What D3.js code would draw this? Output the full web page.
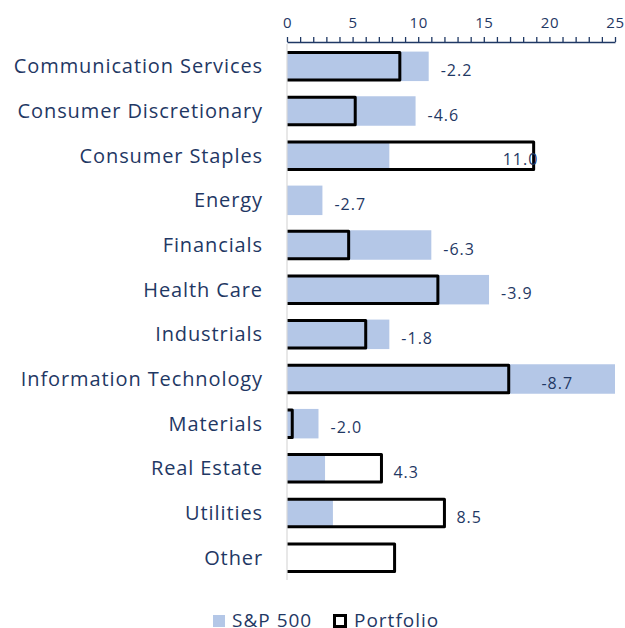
<!DOCTYPE html>
<html lang="en">
<head>
    <meta charset="UTF-8">
    <title>Sector weights: Portfolio vs S&amp;P 500</title>
    <script src="https://d3js.org/d3.v7.min.js"></script>
    <style>
        body { margin: 0; background: #fff; }
        text { font-family: "Open Sans", sans-serif; fill: #1f3864; }
    </style>
</head>
<body>

<script>
const sectors = ["Communication Services", "Consumer Discretionary", "Consumer Staples", "Energy",
    "Financials", "Health Care", "Industrials", "Information Technology", "Materials",
    "Real Estate", "Utilities", "Other"];
const sp500 = [10.8, 9.8, 7.8, 2.7, 11.0, 15.4, 7.8, 25.6, 2.4, 2.9, 3.5, 0];
const portfolio = [8.6, 5.2, 18.8, 0, 4.7, 11.5, 6.0, 16.9, 0.4, 7.2, 12.0, 8.2];
const diffLabels = ["-2.2", "-4.6", "11.0", "-2.7", "-6.3", "-3.9", "-1.8", "-8.7", "-2.0", "4.3", "8.5", ""];
// a few labels sit inside the bars (centre, in axis units)
const labelAt = [null, null, 17.8, null, null, null, null, 20.6, null, null, null, null];
const xTicks = d3.range(0, 26, 1);

const width = 625, height = 628;
const navy = "#1f3864", blue = "#b4c7e7";

const rows = sectors.map((name, i) => ({
    name, sp: sp500[i], pf: portfolio[i], label: diffLabels[i], at: labelAt[i]
}));

const svg = d3.select("body").append("svg")
    .attr("width", width)
    .attr("height", height);

const x = d3.scaleLinear().domain([0, 25]).range([287, 615]).clamp(true);
const y = d3.scaleBand().domain(sectors).range([44, 580]).paddingInner(0.34).paddingOuter(0.17);

// axis on top
const axis = svg.append("g")
    .attr("transform", "translate(0,42)")
    .call(d3.axisTop(x).tickValues(xTicks).tickSize(5).tickSizeOuter(0).tickPadding(9)
        .tickFormat(d => d % 5 === 0 ? d : ""));
axis.select(".domain").attr("stroke", navy).attr("stroke-width", 1.3);
axis.selectAll(".tick line").attr("stroke", navy).attr("stroke-width", 1.3);
axis.selectAll(".tick text").attr("font-size", 15).attr("fill", navy)
    .attr("letter-spacing", "0.6px")
    .attr("font-family", "Open Sans, sans-serif");

// S&P 500 bars
svg.append("g")
    .selectAll("rect")
    .data(rows)
    .join("rect")
    .attr("x", x(0))
    .attr("y", d => y(d.name))
    .attr("width", d => x(d.sp) - x(0))
    .attr("height", y.bandwidth())
    .attr("fill", blue);

// Portfolio bars (outline only, open on the axis side)
svg.append("g")
    .selectAll("path")
    .data(rows.filter(d => d.pf > 0))
    .join("path")
    .attr("d", d => {
        const y0 = y(d.name) + 1, y1 = y(d.name) + y.bandwidth() - 1, x1 = x(d.pf);
        return `M${x(0)},${y0}H${x1}V${y1}H${x(0)}`;
    })
    .attr("fill", "none")
    .attr("stroke", "#000")
    .attr("stroke-width", 3)
    .attr("stroke-linejoin", "round");

// category axis line
svg.append("line")
    .attr("x1", x(0)).attr("x2", x(0))
    .attr("y1", 44).attr("y2", 580)
    .attr("stroke", "#d9d9d9")
    .attr("stroke-width", 1.2);

// category labels
svg.append("g")
    .selectAll("text")
    .data(rows)
    .join("text")
    .attr("x", 263)
    .attr("y", d => y(d.name) + y.bandwidth() / 2)
    .attr("dy", "0.35em")
    .attr("text-anchor", "end")
    .attr("font-size", 20)
    .attr("letter-spacing", "0.9px")
    .text(d => d.name);

// difference labels
svg.append("g")
    .selectAll("text")
    .data(rows)
    .join("text")
    .attr("x", d => d.at !== null ? x(d.at) : Math.max(x(d.sp), x(d.pf)) + 12)
    .attr("y", d => y(d.name) + y.bandwidth() / 2 + 4)
    .attr("dy", "0.35em")
    .attr("text-anchor", d => d.at !== null ? "middle" : "start")
    .attr("font-size", 16)
    .attr("letter-spacing", "1px")
    .text(d => d.label);

// legend
const legend = svg.append("g").attr("transform", "translate(213,620)");
legend.append("rect").attr("x", 0).attr("y", -5).attr("width", 12).attr("height", 12).attr("fill", blue);
legend.append("text").attr("x", 19).attr("dy", "0.35em").attr("font-size", 19)
    .attr("letter-spacing", "1px").text("S&P 500");
legend.append("rect").attr("x", 121.5).attr("y", -4.5).attr("width", 11).attr("height", 11)
    .attr("fill", "#fff").attr("stroke", "#000").attr("stroke-width", 3);
legend.append("text").attr("x", 141).attr("dy", "0.35em").attr("font-size", 19)
    .attr("letter-spacing", "1px").text("Portfolio");
</script>

</body>
</html>
